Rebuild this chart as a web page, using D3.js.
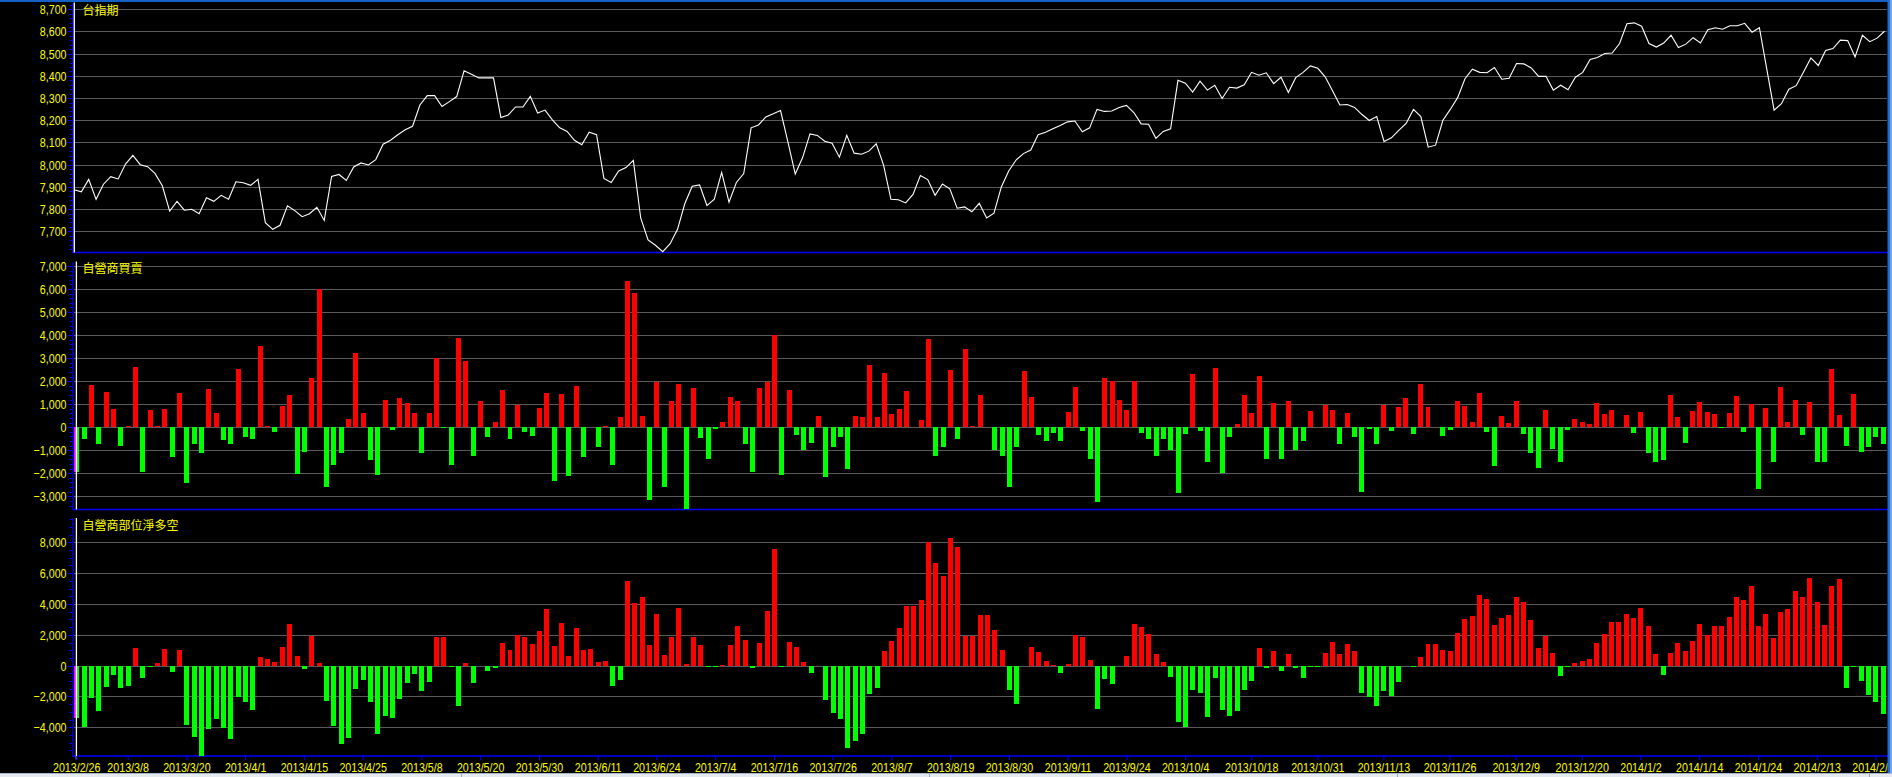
<!DOCTYPE html>
<html><head><meta charset="utf-8">
<script src="https://cdn.jsdelivr.net/npm/d3@7"></script>
<style>html,body{margin:0;padding:0;background:#000;overflow:hidden}svg{display:block}</style>
</head><body><svg id="c" width="1892" height="777"></svg>
<script>
// ---------- data ----------
const tradingDays = [
 ["2013/2",[26,27]],
 ["2013/3",[1,4,5,6,7,8,11,12,13,14,15,18,19,20,21,22,25,26,27,28,29]],
 ["2013/4",[1,2,3,8,9,10,11,12,15,16,17,18,19,22,23,24,25,26,29,30]],
 ["2013/5",[2,3,6,7,8,9,10,13,14,15,16,17,20,21,22,23,24,27,28,29,30,31]],
 ["2013/6",[3,4,5,6,7,10,11,13,14,17,18,19,20,21,24,25,26,27,28]],
 ["2013/7",[1,2,3,4,5,8,9,10,11,12,15,16,17,18,19,22,23,24,25,26,29,30,31]],
 ["2013/8",[1,2,5,6,7,8,9,12,13,14,15,16,19,20,22,23,26,27,28,29,30]],
 ["2013/9",[2,3,4,5,6,9,10,11,12,13,14,16,17,18,23,24,25,26,27,30]],
 ["2013/10",[1,2,3,4,7,8,9,11,14,15,16,17,18,21,22,23,24,25,28,29,30,31]],
 ["2013/11",[1,4,5,6,7,8,11,12,13,14,15,18,19,20,21,22,25,26,27,28,29]],
 ["2013/12",[2,3,4,5,6,9,10,11,12,13,16,17,18,19,20,23,24,25,26,27,30,31]],
 ["2014/1",[2,3,6,7,8,9,10,13,14,15,16,17,20,21,22,23,24,27]],
 ["2014/2",[5,6,7,10,11,12,13,14,17,18,19,20,21,24,25,26]]
];
const tickLabels = ["2013/2/26","2013/3/8","2013/3/20","2013/4/1","2013/4/15","2013/4/25","2013/5/8","2013/5/20","2013/5/30","2013/6/11","2013/6/24","2013/7/4","2013/7/16","2013/7/26","2013/8/7","2013/8/19","2013/8/30","2013/9/11","2013/9/24","2013/10/4","2013/10/18","2013/10/31","2013/11/13","2013/11/26","2013/12/9","2013/12/20","2014/1/2","2014/1/14","2014/1/24","2014/2/13","2014/2/25"];

// 台指期 (close)
const futuresClose = [7887,7878,7934,7844,7912,7946,7936,8003,8042,8000,7991,7961,7905,7791,7835,7795,7799,7779,7851,7835,
7862,7844,7923,7919,7907,7934,7739,7709,7727,7815,7793,7766,7779,7808,7749,7947,7956,7929,7990,8008,
7999,8023,8092,8110,8135,8157,8173,8269,8311,8311,8262,8284,8307,8423,8407,8391,8391,8391,8213,8224,
8260,8260,8308,8233,8246,8202,8166,8150,8110,8090,8146,8135,7938,7920,7972,7987,8019,7760,7661,7637,
7608,7644,7709,7825,7903,7909,7816,7845,7965,7831,7920,7960,8166,8179,8215,8229,8244,8103,7958,8032,
8139,8132,8106,8097,8034,8132,8052,8047,8061,8094,7998,7844,7842,7828,7866,7951,7933,7862,7913,7891,
7804,7810,7788,7826,7760,7782,7900,7972,8021,8050,8066,8135,8146,8162,8177,8193,8197,8148,8166,8249,
8240,8242,8258,8267,8235,8184,8182,8119,8150,8162,8380,8367,8327,8376,8336,8358,8298,8349,8345,8360,
8416,8403,8414,8365,8394,8325,8392,8416,8445,8434,8396,8333,8269,8271,8258,8226,8199,8217,8105,8121,
8155,8186,8249,8217,8079,8088,8200,8249,8302,8387,8430,8416,8414,8438,8385,8389,8456,8454,8436,8398,
8398,8336,8358,8338,8394,8416,8474,8483,8501,8503,8546,8635,8639,8624,8546,8530,8548,8583,8528,8543,
8572,8548,8608,8617,8610,8626,8626,8637,8597,8617,8432,8246,8275,8340,8356,8418,8481,8447,8514,8523,
8561,8559,8485,8583,8554,8570,8601];

// 自營商買賣
const dealerNet = [-1940,-500,1830,-710,1530,800,-800,60,2610,-1940,750,60,800,-1310,1490,-2410,-750,-1140,1660,620,
-540,-710,2520,-410,-500,3530,60,-190,930,1400,-2030,-1060,2130,5990,-2590,-1620,-1100,340,3230,620,
-1440,-2070,1190,-110,1270,1060,620,-1140,620,3000,-20,-1620,3880,2870,-1270,1140,-410,220,1620,-500,
970,-190,-370,840,1490,-2330,1440,-2110,1790,-1310,0,-840,40,-1660,430,6360,5840,500,-3150,1960,
-2590,1140,1880,-3530,1700,-450,-1400,-90,220,1310,1140,-750,-1940,1700,1960,4010,-2070,1620,-320,-1010,
-670,500,-2160,-840,-410,-1830,500,430,2690,430,2350,580,800,1570,0,300,3840,-1270,-880,2480,
-500,3410,40,1400,0,-970,-1230,-2590,-880,2440,1310,-320,-580,-240,-580,670,1750,-150,-1400,-3230,
2130,2000,1190,750,2000,-240,-500,-1230,-500,-1010,-2840,-280,2310,-150,-1530,2560,-2000,-410,130,1400,
620,2220,-1360,1060,-1360,1140,-970,-580,710,0,970,750,-750,620,-410,-2800,-60,-710,970,-150,
880,1270,-280,1880,880,0,-370,-110,1140,930,220,1490,-190,-1700,500,170,1140,-280,-1140,-1790,
750,-930,-1490,-110,340,220,130,1060,580,750,0,540,-240,670,-1140,-1530,-1440,1400,430,-670,
710,1100,670,580,-20,620,1360,-190,1010,-2670,840,-1530,1750,220,1190,-320,1100,-1530,-1490,2520,
540,-800,1440,-1060,-840,-410,-750];

// 自營商部位淨多空
const dealerPosition = [-3420,-3970,-2130,-2970,-1390,-610,-1450,-1320,1160,-810,-60,190,1100,-420,1030,-3870,-4650,-5840,-4130,-3480,
-4060,-4770,-2060,-2390,-2900,580,450,260,1230,2680,650,-200,1900,190,-2320,-3940,-5100,-4710,-1520,-940,
-2390,-4450,-3290,-3420,-2190,-1130,-550,-1650,-1060,1840,1840,-60,-2650,190,-1130,0,-350,-130,1480,1030,
2000,1840,1420,2230,3650,1290,2740,650,2420,1030,1100,260,320,-1350,-900,5480,4030,4480,1350,3320,
710,1840,3710,130,1840,1350,-20,-20,60,1350,2550,1680,-160,1480,3520,7550,-30,1550,1230,260,
-480,0,-2230,-3060,-3480,-5350,-4900,-4450,-1870,-1420,970,1610,2420,3900,3900,4230,8000,6650,5810,8260,
7680,1900,1900,3260,3260,2290,1030,-1550,-2480,0,1230,900,320,60,-480,130,2000,1840,390,-2840,
-870,-1190,0,650,2680,2480,2030,770,260,-740,-3650,-3970,-1580,-1770,-3350,-810,-2900,-3290,-2970,-1580,
-1000,1160,-160,970,-350,770,-160,-810,-100,-100,840,1550,770,1420,970,-1770,-2030,-2650,-1650,-1970,
-1060,0,-30,580,1420,1420,1030,970,2100,3000,3190,4610,4350,2610,3060,3260,4420,4100,2940,1160,
1900,840,-680,-20,190,320,450,1480,2030,2810,2810,3320,3060,3710,2550,770,-610,840,1480,970,
1610,2680,1970,2550,2550,3130,4480,4230,5190,2550,3320,1770,3450,3650,4810,4420,5680,4100,2610,5190,
5610,-1480,-20,-1000,-1900,-2350,-3130];

const panelTitles = ["台指期","自營商買賣","自營商部位淨多空"];
const ticks1 = d3.range(7700, 8701, 100);
const ticks2 = d3.range(-3000, 7001, 1000);
const ticks3 = d3.range(-4000, 8001, 2000);

// ---------- build ----------
const dates = tradingDays.flatMap(([m, ds]) => ds.map(d => m + "/" + d));

const W = 1892, H = 777;
const svg = d3.select("#c");
svg.append("rect").attr("width", W).attr("height", H).attr("fill", "#000");

const YELLOW = "#ffff00", BLUE = "#0000ff", GRID = "#5a5a5a";
const plotL = 73, plotR = 1887;

// font selection (narrow if available)
function hasFont(f){
  const c = document.createElement("canvas").getContext("2d");
  c.font = "20px monospace"; const a = c.measureText("2013/3/8,0123").width;
  c.font = `20px "${f}", monospace`; return c.measureText("2013/3/8,0123").width !== a;
}
const narrow = hasFont("Liberation Sans Narrow");
const numFont = narrow ? '13px "Liberation Sans Narrow"' : '13px "Liberation Sans", Arial, sans-serif';
function styleNums(sel){
  sel.attr("fill", YELLOW).attr("stroke", "none").style("font", numFont);
  if (!narrow) sel.each(function(){ const w = this.getComputedTextLength(); d3.select(this).attr("textLength", w*0.82).attr("lengthAdjust","spacingAndGlyphs"); });
}

const x = d3.scaleBand().domain(dates).range([73.03, 1887.0]).paddingInner(0.32).paddingOuter(0.16);
const xl = d3.scalePoint().domain(dates).range([74, 1884.5]);

const panels = [
  {top:2.5, bottom:252.5, dom:[7604.5, 8730.6], ticks:ticks1, minor:20, title:panelTitles[0], tBase:15},
  {top:261.5, bottom:509.5, dom:[-3573, 7195], ticks:ticks2, minor:200, title:panelTitles[1], tBase:272.5},
  {top:518, bottom:756, dom:[-5862, 9576], ticks:ticks3, minor:500, title:panelTitles[2], tBase:530}
];
panels.forEach(p => { p.y = d3.scaleLinear().domain(p.dom).range([p.bottom, p.top]); });

panels.forEach((p, pi) => {
  const g = svg.append("g");
  // gridlines
  g.append("g").selectAll("line").data(p.ticks).join("line")
    .attr("x1", plotL + 1).attr("x2", plotR)
    .attr("y1", d => Math.round(p.y(d)) + 0.5).attr("y2", d => Math.round(p.y(d)) + 0.5)
    .attr("stroke", GRID).attr("stroke-width", 1);
  // minor ticks
  const mlo = Math.ceil(p.dom[0] / p.minor) * p.minor;
  const minors = d3.range(mlo, p.dom[1], p.minor).filter(v => !p.ticks.includes(v) && !(pi===0 && v%100===0) );
  g.append("g").selectAll("line").data(minors).join("line")
    .attr("x1", 69.5).attr("x2", 72.5)
    .attr("y1", d => Math.round(p.y(d)) + 0.5).attr("y2", d => Math.round(p.y(d)) + 0.5)
    .attr("stroke", BLUE).attr("stroke-width", 1);
  // axis
  const ax = g.append("g").attr("transform", "translate(72.5,0)")
    .call(d3.axisLeft(p.y).tickValues(p.ticks).tickFormat(d3.format(",")).tickSize(5).tickSizeOuter(0).tickPadding(1));
  ax.select(".domain").attr("stroke", BLUE).attr("stroke-width", 1.2);
  ax.selectAll(".tick line").attr("stroke", BLUE);
  ax.selectAll(".tick").attr("transform", d => `translate(0,${Math.round(p.y(d)) + 0.5})`);
  styleNums(ax.selectAll("text"));
  // bottom border line
  g.append("line").attr("x1", 72).attr("x2", plotR + 1).attr("y1", p.bottom).attr("y2", p.bottom)
    .attr("stroke", BLUE).attr("stroke-width", 1.3);
});

// panel 1: line
const p1 = panels[0];
svg.append("path").datum(futuresClose)
  .attr("d", d3.line().x((d, i) => xl(dates[i])).y(d => p1.y(d)))
  .attr("fill", "none").attr("stroke", "#ffffff").attr("stroke-width", 1.1);

// panels 2, 3: bars
function bars(p, vals){
  const g = svg.append("g").attr("shape-rendering", "crispEdges");
  g.selectAll("rect").data(dates).join("rect")
    .attr("x", d => x(d)).attr("width", x.bandwidth())
    .attr("y", (d, i) => p.y(Math.max(0, vals[i])))
    .attr("height", (d, i) => Math.max(vals[i] === 0 ? 0 : 1, Math.abs(p.y(vals[i]) - p.y(0))))
    .attr("fill", (d, i) => vals[i] >= 0 ? "#ff0000" : "#00ff00");
  // cursor highlight on first bar
  const v0 = vals[0];
  g.append("rect").attr("x", x(dates[0])).attr("width", 1.6)
    .attr("y", p.y(Math.max(0, v0))).attr("height", Math.abs(p.y(v0) - p.y(0))).attr("fill", "#ff00ff");
}
bars(panels[1], dealerNet);
bars(panels[2], dealerPosition);

// cursor lines
svg.append("line").attr("x1", xl(dates[0]) + 0.3).attr("x2", xl(dates[0]) + 0.3)
  .attr("y1", p1.top).attr("y2", p1.bottom).attr("stroke", "#fff").attr("stroke-width", 1.3);
[panels[1], panels[2]].forEach((p, k) => {
  const cx = x(dates[0]) + x.bandwidth() / 2 - 0.3;
  svg.append("line").attr("x1", cx).attr("x2", cx)
    .attr("y1", p.top).attr("y2", p.bottom + (k === 1 ? 3.5 : 0)).attr("stroke", "#fff").attr("stroke-width", 1.3);
});

// titles
panels.forEach(p => {
  svg.append("text").attr("x", 82.5).attr("y", p.tBase).text(p.title)
    .attr("fill", YELLOW).style("font", '12px "Noto Sans CJK TC", "Noto Sans CJK SC", sans-serif');
});

// x axis
const p3 = panels[2];
const xa = svg.append("g").attr("transform", `translate(0,${p3.bottom})`)
  .call(d3.axisBottom(x).tickValues(tickLabels).tickSize(4).tickSizeOuter(0).tickPadding(2.5));
xa.select(".domain").remove();
xa.selectAll(".tick line").attr("stroke", BLUE);
styleNums(xa.selectAll("text"));

// window chrome
svg.append("rect").attr("x", 0).attr("y", 0).attr("width", W).attr("height", 2).attr("fill", "#1560c4");
svg.append("rect").attr("x", 1887.5).attr("y", 0).attr("width", 2.5).attr("height", H).attr("fill", "#1a6ad8");
svg.append("rect").attr("x", 1890).attr("y", 0).attr("width", 2).attr("height", H).attr("fill", "#7aa4de");
svg.append("rect").attr("x", 0).attr("y", 773).attr("width", W).attr("height", 4).attr("fill", "#e4eaf0");
svg.append("line").attr("x1", 0).attr("x2", W).attr("y1", 773.5).attr("y2", 773.5).attr("stroke", "#a8b8cc");
[461.5, 929.5, 1397.5, 1869.5].forEach(v => svg.append("line").attr("x1", v).attr("x2", v).attr("y1", 774).attr("y2", 777).attr("stroke", "#9aa8b8"));
</script>
</body></html>
